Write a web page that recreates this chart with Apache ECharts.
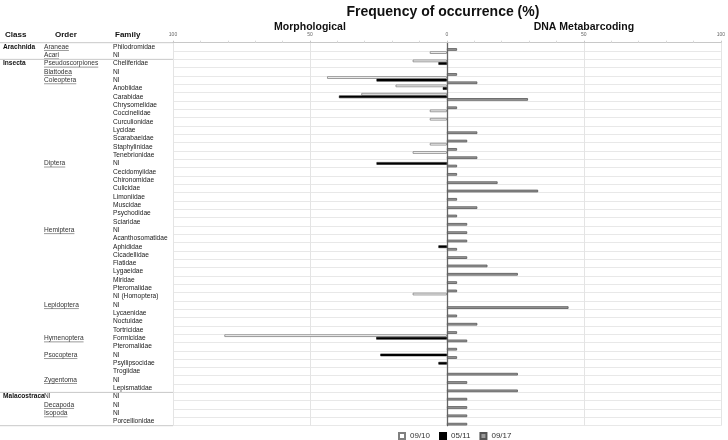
<!DOCTYPE html>
<html>
<head>
<meta charset="utf-8">
<script src="https://cdn.jsdelivr.net/npm/echarts@6/dist/echarts.min.js"></script>
<style>html,body{margin:0;padding:0;background:#fff;}#c{width:728px;height:440px;}</style>
</head>
<body>
<div id="c"></div>
<script>
const families = ['Philodromidae','NI','Cheliferidae','NI','NI','Anobiidae','Carabidae','Chrysomelidae','Coccinelidae','Curculionidae','Lycidae','Scarabaeidae','Staphylinidae','Tenebrionidae','NI','Cecidomyiidae','Chironomidae','Culicidae','Limoniidae','Muscidae','Psychodidae','Sciaridae','NI','Acanthosomatidae','Aphididae','Cicadellidae','Flatidae','Lygaeidae','Miridae','Pteromalidae','NI (Homoptera)','NI','Lycaenidae','Noctuidae','Tortricidae','Formicidae','Pteromalidae','NI','Psyllipsocidae','Trogiidae','NI','Lepismatidae','NI','NI','NI','Porcellionidae'];
const classNames = ['Arachnida','Insecta','Malacostraca'];
const classRows = [0, 2, 42];
const orderNames = ['Araneae','Acari','Pseudoscorpiones','Blattodea','Coleoptera','Diptera','Hemiptera','Lepidoptera','Hymenoptera','Psocoptera','Zygentoma','NI','Decapoda','Isopoda'];
const orderRows = [0, 1, 2, 3, 4, 14, 22, 31, 35, 37, 40, 42, 43, 44];
const orderUnderlined = [true,true,true,true,true,true,true,true,true,true,true,false,true,true];
const seriesNames = ['09/10','05/11','09/17'];
const n = null;
// Morphological (plotted to the left)
const s0910 = [n,6.25,12.5,n,43.75,18.75,31.25,n,6.25,6.25,n,n,6.25,12.5, n,n,n,n,n,n,n,n, n,n,n,n,n,n,n,n,12.5, n,n,n,n, 81.25,n, n,n,n, n,n, n,n,n,n];
const s0511 = [n,n,3.1,n,25.7,1.5,39.4,n,n,n,n,n,n,n, 25.7,n,n,n,n,n,n,n, n,n,3.1,n,n,n,n,n,n, n,n,n,n, 25.8,n, 24.3,3.1,n, n,n, n,n,n,n];
// DNA metabarcoding (plotted to the right)
const s0917 = [3.7,n,n,3.7,11.1,n,29.6,3.7,n,n,11.1,7.4,3.7,11.1, 3.7,3.7,18.5,33.3,3.7,11.1,3.7,7.4, 7.4,7.4,3.7,7.4,14.8,25.9,3.7,3.7,n, 44.4,3.7,11.1,3.7, 7.4,3.7, 3.7,n,25.9, 7.4,25.9, 7.4,7.4,7.4,7.4];
const xTicks = [-100,-50,0,50,100];

(function(){
const FONT = '"Liberation Sans", Arial, sans-serif';
const chart = echarts.init(document.getElementById('c'), null, {renderer:'canvas'});
const neg = a => a.map(v => v == null ? null : -v);
const rowIds = families.map((f,i) => String(i));

const barBase = {type:'bar', barWidth:2.6, barGap:'0%', barCategoryGap:'10%', silent:true, animation:false};
const option = {
  animation:false,
  textStyle:{fontFamily:FONT},
  grid:{left:173, right:6.5, top:42.7, bottom:14.3, containLabel:false},
  legend:{
    data:seriesNames, left:398, top:432, itemWidth:6, itemHeight:6, itemGap:9, padding:0,
    icon:'rect', textStyle:{fontSize:8, color:'#333', fontFamily:FONT}
  },
  xAxis:{
    type:'value', position:'top', min:xTicks[0], max:xTicks[xTicks.length-1], interval:50,
    axisLine:{show:true, lineStyle:{color:'#c8c8c8', width:1}},
    axisTick:{show:true, length:2, lineStyle:{color:'#c8c8c8'}},
    minorTick:{show:true, splitNumber:5, length:2, lineStyle:{color:'#d8d8d8'}},
    axisLabel:{fontSize:5, color:'#666', margin:6, formatter:v => String(Math.abs(v))},
    splitLine:{show:true, lineStyle:{color:'#e4e4e4', width:1}}
  },
  yAxis:{
    type:'category', inverse:true, data:rowIds,
    axisLine:{show:true, onZero:true, lineStyle:{color:'#666', width:1.3}},
    axisTick:{show:false},
    axisLabel:{show:false},
    splitLine:{show:true, interval:0, lineStyle:{color:'#e8e8e8', width:1}}
  },
  series:[
    Object.assign({}, barBase, {name:seriesNames[0], data:neg(s0910), itemStyle:{color:'#ffffff', borderColor:'#808080', borderWidth:0.8}}),
    Object.assign({}, barBase, {name:seriesNames[1], data:neg(s0511), itemStyle:{color:'#000000', borderColor:'#000', borderWidth:0.5}}),
    Object.assign({}, barBase, {name:seriesNames[2], data:s0917, itemStyle:{color:'#9a9a9a', borderColor:'#555555', borderWidth:0.8}})
  ]
};
chart.setOption(option);

const ctx = document.createElement('canvas').getContext('2d');
function textW(t, size, weight){ ctx.font = (weight||'normal') + ' ' + size + 'px ' + FONT; return ctx.measureText(t).width; }
const rowY = i => chart.convertToPixel({yAxisIndex:0}, String(i));
const h = rowY(1) - rowY(0);
const gridLeft = chart.convertToPixel({xAxisIndex:0}, -100);
const g = [];
function txt(x, y, t, size, weight, fill, align){
  g.push({type:'text', x:x, y:y, silent:true, style:{text:t, fontSize:size, fontWeight:weight||'normal', fontFamily:FONT, fill:fill||'#222', align:align||'left', verticalAlign:'middle'}});
}
function line(x1,y1,x2,y2,c,w){ g.push({type:'line', silent:true, shape:{x1:x1,y1:y1,x2:x2,y2:y2}, style:{stroke:c||'#bbb', lineWidth:w||1}}); }

const xc = chart.convertToPixel({xAxisIndex:0}, 0);
txt(xc - 4, 12, 'Frequency of occurrence (%)', 14, 'bold', '#111', 'center');
txt(chart.convertToPixel({xAxisIndex:0}, -50), 27.5, 'Morphological', 10.5, 'bold', '#111', 'center');
txt(chart.convertToPixel({xAxisIndex:0}, 50), 27.5, 'DNA Metabarcoding', 10.5, 'bold', '#111', 'center');
txt(5, 35, 'Class', 8, 'bold', '#111');
txt(55, 35, 'Order', 8, 'bold', '#111');
txt(115, 35, 'Family', 8, 'bold', '#111');

families.forEach((f, i) => txt(113, rowY(i), f, 6.6, 'normal', '#222'));
classNames.forEach((c, k) => txt(3, rowY(classRows[k]), c, 6.6, 'bold', '#111'));
orderNames.forEach((o, k) => {
  const y = rowY(orderRows[k]);
  txt(44, y, o, 6.6, 'normal', '#333');
  if (orderUnderlined[k]) line(44, y + 3.6, 44 + textW(o, 6.6), y + 3.6, '#555', 0.6);
});
const yTop = rowY(0) - h/2, yBot = rowY(families.length-1) + h/2;
line(0, yTop, gridLeft, yTop, '#c8c8c8', 1);
line(0, rowY(1) + h/2, gridLeft, rowY(1) + h/2, '#c8c8c8', 1);
line(0, rowY(41) + h/2, gridLeft, rowY(41) + h/2, '#c8c8c8', 1);
line(0, yBot, gridLeft, yBot, '#c8c8c8', 1);

chart.setOption({graphic:g});
})();
</script>
</body>
</html>
